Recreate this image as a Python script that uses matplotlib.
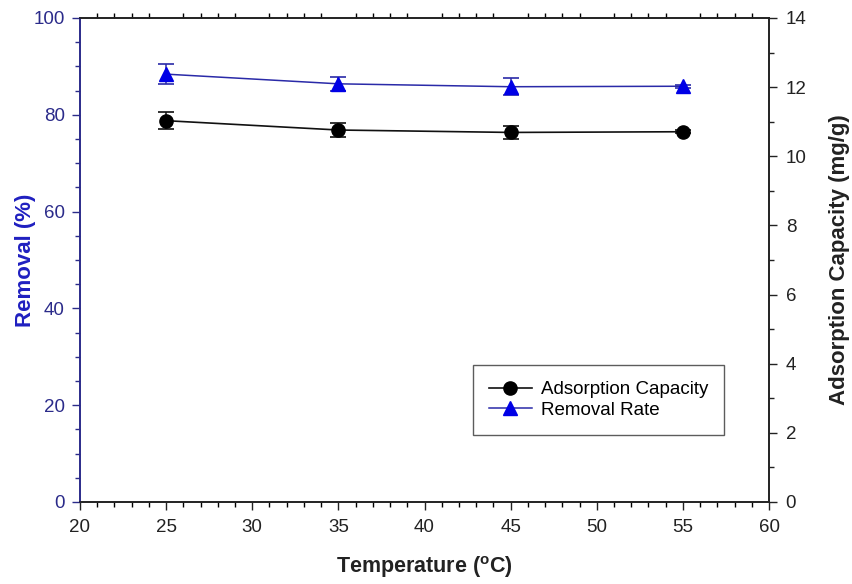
import matplotlib
matplotlib.use("Agg")
import matplotlib.pyplot as plt
from matplotlib.ticker import MultipleLocator
from matplotlib.lines import Line2D

plt.rcParams['font.family'] = ['Liberation Sans', 'DejaVu Sans']

temperature = [25, 35, 45, 55]
removal = [88.4, 86.4, 85.8, 85.9]
removal_err = [2.1, 1.5, 1.8, 0.3]
capacity = [11.03, 10.76, 10.69, 10.71]
capacity_err = [0.24, 0.19, 0.19, 0.05]

fig = plt.figure(figsize=(8.52, 5.84), dpi=100)
ax = fig.add_axes([80/852, 1-502/584, 689/852, 484/584])
ax2 = ax.twinx()

blue_line = '#2a2aa8'
blue_mark = '#0000e6'
navy = '#2b2b8a'

ax.errorbar(temperature, removal, yerr=removal_err, color=blue_line, lw=1.1,
            marker='^', ms=9.5, mfc=blue_mark, mec=blue_mark, ecolor=blue_line,
            capsize=5.5, capthick=1.2, elinewidth=1.1, zorder=3)
ax2.errorbar(temperature, capacity, yerr=capacity_err, color='#111111', lw=1.2,
             marker='o', ms=9.5, mfc='black', mec='black', ecolor='#111111',
             capsize=5.5, capthick=1.2, elinewidth=1.1, zorder=3)

ax.set_xlim(20, 60)
ax.set_ylim(0, 100)
ax2.set_ylim(0, 14)

ax.xaxis.set_major_locator(MultipleLocator(5))
ax.xaxis.set_minor_locator(MultipleLocator(1))
ax.yaxis.set_major_locator(MultipleLocator(20))
ax.yaxis.set_minor_locator(MultipleLocator(5))
ax2.yaxis.set_major_locator(MultipleLocator(2))
ax2.yaxis.set_minor_locator(MultipleLocator(1))

ax.tick_params(axis='x', which='major', direction='out', length=6, width=1,
               labelsize=13.5, colors='#222222', top=False, pad=6)
ax.tick_params(axis='x', which='minor', direction='out', length=3.5, width=1,
               top=True, bottom=True)
ax.tick_params(axis='y', which='major', direction='out', length=6, width=1,
               labelsize=13.5, colors=navy, pad=5)
ax.tick_params(axis='y', which='minor', direction='out', length=3.5, width=1,
               colors=navy)
ax2.tick_params(axis='y', which='major', direction='out', length=6, width=1,
                labelsize=13.5, colors='#222222', pad=6)
ax2.tick_params(axis='y', which='minor', direction='out', length=3.5, width=1,
                colors='#222222')

for a in (ax, ax2):
    for s in a.spines.values():
        s.set_linewidth(1.2)
        s.set_color('#222222')
ax.spines['left'].set_color(navy)
ax2.spines['left'].set_color(navy)

ax.set_xlabel('Temperature ($\\mathregular{^{o}}$C)', fontsize=15.5, fontweight='bold',
              color='#222222', labelpad=13)
ax.set_ylabel('Removal (%)', fontsize=16, fontweight='bold', color='#1f1fc0', labelpad=-2)
ax2.set_ylabel('Adsorption Capacity (mg/g)', fontsize=16, fontweight='bold',
               color='#222222', labelpad=16)

handles = [
    Line2D([], [], color='#111111', lw=1.2, marker='o', ms=9.5, mfc='black', mec='black'),
    Line2D([], [], color=blue_line, lw=1.1, marker='^', ms=9.5, mfc=blue_mark, mec=blue_mark),
]
leg = ax2.legend(handles, ['Adsorption Capacity', 'Removal Rate'], loc='upper left',
                 bbox_to_anchor=(0.570, 0.283), frameon=True, fancybox=False,
                 edgecolor='#333333', fontsize=13.5, handlelength=2.3,
                 borderpad=0.85, labelspacing=0.2, handletextpad=0.5, borderaxespad=0)
leg.get_frame().set_linewidth(1.0)

fig.savefig('out.png', dpi=100)
